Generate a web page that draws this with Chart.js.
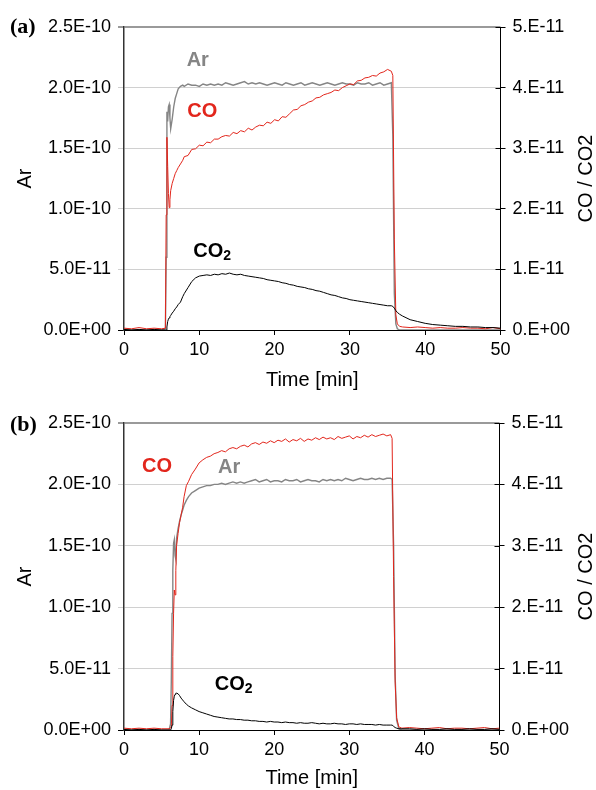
<!DOCTYPE html>
<html lang="en">
<head>
    <meta charset="UTF-8">
    <title>Ar / CO / CO2 signals</title>
    <script src="https://cdn.jsdelivr.net/npm/chart.js@4.4.1/dist/chart.umd.min.js"></script>
    <style>
        body { margin: 0; background: #fff; }
        .panel { width: 596px; height: 395px; }
    </style>
</head>
<body>
    <div class="panel"><canvas id="chart-a" width="596" height="395"></canvas></div>
    <div class="panel"><canvas id="chart-b" width="596" height="395"></canvas></div>

<script>
// ---- panel (a) ----
// time [min]
const timeA = [
    0, 1, 2, 3, 4, 5, 5.5, 5.6, 5.7, 5.8,
    5.9, 6.0, 6.1, 6.2, 6.4, 6.6, 6.8, 7.0, 7.2, 7.5,
    7.8, 8.0, 8.5, 9.0, 9.5, 10, 10.5, 11, 11.5, 12,
    12.5, 13, 13.5, 14, 14.5, 15, 15.5, 16, 16.5, 17,
    17.5, 18, 18.5, 19, 19.5, 20, 20.5, 21, 21.5, 22,
    22.5, 23, 23.5, 24, 24.5, 25, 25.5, 26, 26.5, 27,
    27.5, 28, 28.5, 29, 29.5, 30, 30.5, 31, 31.5, 32,
    32.5, 33, 33.5, 34, 34.5, 35, 35.5, 35.7, 35.9, 36.1,
    36.3, 36.6, 37, 38, 39, 40, 41, 42, 43, 44,
    45, 46, 47, 48, 49, 50
];
// Ar, in units of 1E-10 (left axis)
const arA = [
    0.00, 0.00, 0.00, 0.00, 0.00, 0.00, 0.01, 0.60, 1.80, 1.72,
    1.84, 1.86, 1.75, 1.66, 1.74, 1.84, 1.91, 1.95, 1.99, 2.01,
    2.02, 2.01, 2.03, 2.02, 2.02, 2.01, 2.03, 2.02, 2.03, 2.02,
    2.03, 2.02, 2.04, 2.03, 2.02, 2.03, 2.04, 2.05, 2.03, 2.04,
    2.03, 2.04, 2.03, 2.02, 2.03, 2.04, 2.03, 2.02, 2.04, 2.03,
    2.02, 2.03, 2.04, 2.02, 2.03, 2.04, 2.03, 2.02, 2.03, 2.04,
    2.03, 2.02, 2.03, 2.04, 2.03, 2.03, 2.02, 2.04, 2.03, 2.03,
    2.04, 2.02, 2.03, 2.04, 2.02, 2.03, 2.04, 1.60, 0.30, 0.05,
    0.01, 0.00, 0.00, 0.00, 0.00, 0.00, 0.00, 0.00, 0.00, 0.00,
    0.00, 0.00, 0.00, 0.00, 0.00, 0.00
];
// CO, in units of 1E-11 (right axis)
const coA = [
    0.03, 0.02, 0.04, 0.02, 0.03, 0.02, 0.03, 1.90, 3.18, 2.70,
    2.25, 2.02, 2.15, 2.30, 2.42, 2.50, 2.58, 2.63, 2.68, 2.74,
    2.80, 2.86, 2.88, 2.98, 2.99, 3.05, 3.04, 3.10, 3.09, 3.15,
    3.15, 3.19, 3.21, 3.20, 3.26, 3.24, 3.29, 3.27, 3.33, 3.30,
    3.35, 3.38, 3.37, 3.43, 3.41, 3.47, 3.45, 3.52, 3.51, 3.57,
    3.63, 3.64, 3.70, 3.72, 3.76, 3.78, 3.83, 3.84, 3.88, 3.90,
    3.92, 3.96, 3.95, 4.00, 4.03, 4.06, 4.05, 4.11, 4.12, 4.16,
    4.17, 4.20, 4.19, 4.24, 4.26, 4.30, 4.27, 4.20, 1.50, 0.25,
    0.10, 0.06, 0.05, 0.04, 0.05, 0.04, 0.03, 0.04, 0.03, 0.03,
    0.04, 0.03, 0.03, 0.02, 0.04, 0.02
];
// CO2, in units of 1E-11 (right axis)
const co2A = [
    0.01, 0.00, 0.01, 0.00, 0.01, 0.00, 0.00, 0.00, 0.05, 0.14,
    0.18, 0.20, 0.22, 0.24, 0.28, 0.31, 0.35, 0.38, 0.42, 0.46,
    0.55, 0.60, 0.70, 0.80, 0.86, 0.89, 0.90, 0.91, 0.90, 0.92,
    0.91, 0.93, 0.92, 0.94, 0.92, 0.91, 0.92, 0.90, 0.89, 0.88,
    0.87, 0.86, 0.85, 0.83, 0.82, 0.81, 0.80, 0.78, 0.77, 0.75,
    0.74, 0.72, 0.71, 0.70, 0.68, 0.67, 0.65, 0.64, 0.62, 0.60,
    0.58, 0.57, 0.55, 0.53, 0.52, 0.50, 0.49, 0.48, 0.47, 0.46,
    0.45, 0.44, 0.43, 0.42, 0.41, 0.40, 0.40, 0.39, 0.36, 0.32,
    0.29, 0.26, 0.23, 0.17, 0.14, 0.11, 0.09, 0.08, 0.07, 0.06,
    0.06, 0.05, 0.05, 0.04, 0.04, 0.03
];

// ---- panel (b) ----
const timeB = [
    0, 1, 2, 3, 4, 5, 6, 6.2, 6.3, 6.4,
    6.5, 6.6, 6.7, 6.8, 6.9, 7.0, 7.2, 7.4, 7.6, 7.8,
    8.0, 8.3, 8.6, 9.0, 9.5, 10, 10.5, 11, 11.5, 12,
    12.5, 13, 13.5, 14, 14.5, 15, 15.5, 16, 16.5, 17,
    17.5, 18, 18.5, 19, 19.5, 20, 20.5, 21, 21.5, 22,
    22.5, 23, 23.5, 24, 24.5, 25, 25.5, 26, 26.5, 27,
    27.5, 28, 28.5, 29, 29.5, 30, 30.5, 31, 31.5, 32,
    32.5, 33, 33.5, 34, 34.5, 35, 35.5, 35.7, 35.9, 36.1,
    36.3, 36.6, 37, 38, 39, 40, 41, 42, 43, 44,
    45, 46, 47, 48, 49, 50
];
const arB = [
    0.00, 0.00, 0.00, 0.00, 0.00, 0.00, 0.00, 0.05, 0.40, 0.95,
    1.30, 1.52, 1.55, 1.42, 1.39, 1.56, 1.64, 1.70, 1.75, 1.79,
    1.83, 1.87, 1.90, 1.93, 1.95, 1.97, 1.98, 1.99, 1.99, 2.00,
    2.00, 2.01, 2.00, 2.01, 2.02, 2.01, 2.02, 2.01, 2.02, 2.03,
    2.04, 2.02, 2.03, 2.04, 2.02, 2.03, 2.03, 2.02, 2.04, 2.03,
    2.03, 2.04, 2.02, 2.03, 2.04, 2.03, 2.03, 2.02, 2.04, 2.03,
    2.04, 2.03, 2.04, 2.03, 2.05, 2.04, 2.03, 2.04, 2.05, 2.04,
    2.04, 2.05, 2.04, 2.05, 2.04, 2.05, 2.05, 2.04, 1.50, 0.45,
    0.08, 0.01, 0.00, 0.00, 0.00, 0.00, 0.00, 0.00, 0.00, 0.00,
    0.00, 0.00, 0.00, 0.00, 0.00, 0.00
];
const coB = [
    0.03, 0.02, 0.03, 0.02, 0.03, 0.02, 0.02, 0.03, 0.05, 0.40,
    1.20, 1.90, 2.28, 2.20, 2.60, 3.00, 3.20, 3.38, 3.50, 3.62,
    3.80, 3.98, 4.05, 4.16, 4.25, 4.35, 4.40, 4.44, 4.46, 4.50,
    4.52, 4.55, 4.53, 4.58, 4.60, 4.58, 4.62, 4.64, 4.61, 4.66,
    4.68, 4.65, 4.69, 4.67, 4.71, 4.68, 4.72, 4.70, 4.74, 4.69,
    4.73, 4.71, 4.75, 4.70, 4.74, 4.72, 4.76, 4.73, 4.77, 4.74,
    4.76, 4.73, 4.78, 4.75, 4.77, 4.79, 4.74, 4.78, 4.76, 4.80,
    4.77, 4.81, 4.78, 4.80, 4.82, 4.79, 4.81, 4.75, 2.50, 0.80,
    0.20, 0.05, 0.03, 0.04, 0.03, 0.02, 0.03, 0.04, 0.02, 0.03,
    0.03, 0.02, 0.03, 0.04, 0.02, 0.03
];
const co2B = [
    0.01, 0.00, 0.01, 0.00, 0.01, 0.00, 0.00, 0.00, 0.02, 0.08,
    0.30, 0.48, 0.55, 0.58, 0.60, 0.60, 0.59, 0.56, 0.52, 0.49,
    0.46, 0.42, 0.39, 0.36, 0.33, 0.30, 0.28, 0.26, 0.24, 0.22,
    0.21, 0.20, 0.19, 0.18, 0.18, 0.17, 0.17, 0.16, 0.16, 0.15,
    0.15, 0.14, 0.14, 0.13, 0.14, 0.13, 0.13, 0.12, 0.13, 0.12,
    0.12, 0.11, 0.12, 0.11, 0.11, 0.12, 0.11, 0.10, 0.11, 0.10,
    0.10, 0.11, 0.10, 0.10, 0.09, 0.10, 0.10, 0.09, 0.10, 0.09,
    0.09, 0.09, 0.08, 0.09, 0.08, 0.08, 0.08, 0.08, 0.06, 0.04,
    0.03, 0.02, 0.02, 0.02, 0.01, 0.02, 0.01, 0.01, 0.02, 0.01,
    0.01, 0.02, 0.01, 0.01, 0.02, 0.01
];

// axis ranges
const arMax = 2.5e-10, arStep = 5e-11;
const coMax = 5e-11, coStep = 1e-11;

const RED = '#e2261c';
const GRAY = '#858585';

Chart.defaults.font.family = '"Liberation Sans", Arial, sans-serif';
Chart.defaults.color = '#000';

function toPoints(times, values, unit) {
    return times.map((t, i) => ({ x: t, y: values[i] * unit }));
}

// 2.5E-10 / 5.E-11 style labels
function sciLabel(value, digits) {
    const parts = value.toExponential(digits).split('e');
    const exp = parseInt(parts[1], 10);
    const sign = exp < 0 ? '-' : '+';
    const mant = digits === 0 ? parts[0] + '.' : parts[0];
    return mant + 'E' + sign + String(Math.abs(exp)).padStart(2, '0');
}

// panel letter, right axis title, inner right ticks and the in-plot series names
const panelText = {
    id: 'panelText',
    afterDatasetsDraw(chart, args, o) {
        const { ctx, chartArea, scales } = chart;
        ctx.save();

        // right axis ticks cross the axis line
        ctx.strokeStyle = '#000';
        ctx.lineWidth = 1;
        scales.y1.ticks.forEach(tk => {
            const y = Math.round(scales.y1.getPixelForValue(tk.value)) + 0.5;
            ctx.beginPath();
            ctx.moveTo(chartArea.right - 5, y);
            ctx.lineTo(chartArea.right, y);
            ctx.stroke();
        });

        ctx.textBaseline = 'middle';
        ctx.fillStyle = '#000';
        ctx.textAlign = 'left';
        ctx.font = 'bold 22px "Liberation Serif"';
        ctx.fillText(o.letter, 10, chartArea.top + o.letterShift);

        ctx.save();
        ctx.translate(586, (chartArea.top + chartArea.bottom) / 2);
        ctx.rotate(-Math.PI / 2);
        ctx.textAlign = 'center';
        ctx.font = '20px "Liberation Sans"';
        ctx.fillText('CO / CO2', 0, 0);
        ctx.restore();

        o.tags.forEach(tag => {
            const x = scales.x.getPixelForValue(tag.t);
            const y = scales[tag.axis].getPixelForValue(tag.v);
            ctx.fillStyle = tag.color;
            ctx.font = 'bold 20px "Liberation Sans"';
            ctx.textAlign = tag.sub ? 'left' : 'center';
            ctx.fillText(tag.text, x, y);
            if (tag.sub) {
                const w = ctx.measureText(tag.text).width;
                ctx.font = 'bold 14px "Liberation Sans"';
                ctx.fillText(tag.sub, x + w, y + 5);
            }
        });
        ctx.restore();
    }
};

function makePanel(id, p) {
    return new Chart(document.getElementById(id), {
        type: 'line',
        data: {
            datasets: [
                { label: 'CO2', data: toPoints(p.time, p.co2, 1e-11), yAxisID: 'y1', borderColor: '#000', order: 0 },
                { label: 'CO', data: toPoints(p.time, p.co, 1e-11), yAxisID: 'y1', borderColor: RED, order: 1 },
                { label: 'Ar', data: toPoints(p.time, p.ar, 1e-10), yAxisID: 'y', borderColor: GRAY, borderWidth: 1.4, order: 2 }
            ]
        },
        options: {
            responsive: false,
            animation: false,
            events: [],
            elements: {
                point: { radius: 0 },
                line: { borderWidth: 1, tension: 0 }
            },
            layout: { padding: { top: p.top, left: 0, right: 0, bottom: 0 } },
            plugins: {
                legend: { display: false },
                tooltip: { enabled: false },
                panelText: { letter: p.letter, letterShift: p.letterShift, tags: p.tags }
            },
            scales: {
                x: {
                    type: 'linear', min: 0, max: 50,
                    ticks: { stepSize: 10, padding: 4, font: { size: 18 } },
                    grid: { drawOnChartArea: false, tickLength: 5, color: '#000' },
                    border: { color: '#000', width: 1 },
                    title: { display: true, text: 'Time [min]', font: { size: 20 }, padding: { top: 0, bottom: p.titlePad } },
                    afterFit(s) { s.height = p.xHeight; }
                },
                y: {
                    position: 'left', min: 0, max: arMax,
                    ticks: { stepSize: arStep, padding: 7, font: { size: 18 }, callback: v => sciLabel(v, 1) },
                    grid: {
                        tickLength: 6,
                        color: c => c.tick && c.tick.value >= arMax ? '#9a9a9a' : '#d0d0d0',
                        tickColor: c => c.tick && c.tick.value === 0 ? '#000' : (c.tick && c.tick.value >= arMax ? '#9a9a9a' : '#d0d0d0'),
                        lineWidth: c => c.tick && c.tick.value >= arMax ? 2 : 1
                    },
                    border: { color: '#333', width: 1.5 },
                    title: { display: true, text: 'Ar', font: { size: 20 }, padding: { top: 13, bottom: 0 } },
                    afterFit(s) { s.width = 124; }
                },
                y1: {
                    position: 'right', min: 0, max: coMax,
                    ticks: { stepSize: coStep, padding: 7, font: { size: 18 }, callback: v => sciLabel(v, 0) },
                    grid: { drawOnChartArea: false, tickLength: 5, color: '#000' },
                    border: { color: '#000', width: 1 },
                    afterFit(s) { s.width = p.rightWidth; }
                }
            }
        },
        plugins: [panelText]
    });
}

makePanel('chart-a', {
    time: timeA, ar: arA, co: coA, co2: co2A,
    letter: '(a)', letterShift: 0,
    top: 27, xHeight: 65, rightWidth: 95.5, titlePad: 3,
    tags: [
        { text: 'Ar', t: 9.8, v: 2.22e-10, axis: 'y', color: GRAY },
        { text: 'CO', t: 10.4, v: 3.61e-11, axis: 'y1', color: RED },
        { text: 'CO', sub: '2', t: 9.2, v: 1.30e-11, axis: 'y1', color: '#000' }
    ]
});

makePanel('chart-b', {
    time: timeB, ar: arB, co: coB, co2: co2B,
    letter: '(b)', letterShift: 2,
    top: 28, xHeight: 60, rightWidth: 96.5, titlePad: 0,
    tags: [
        { text: 'CO', t: 4.4, v: 4.29e-11, axis: 'y1', color: RED },
        { text: 'Ar', t: 14.0, v: 2.14e-10, axis: 'y', color: GRAY },
        { text: 'CO', sub: '2', t: 12.1, v: 0.74e-11, axis: 'y1', color: '#000' }
    ]
});
</script>
</body>
</html>
